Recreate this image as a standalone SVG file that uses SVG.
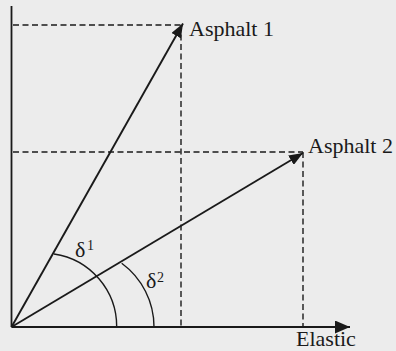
<svg xmlns="http://www.w3.org/2000/svg" width="396" height="351" viewBox="0 0 396 351">
<style>
.ax{stroke:#1a1a1a;stroke-width:1.8;fill:none}
.vec{stroke:#1a1a1a;stroke-width:1.9;fill:none}
.dash{stroke:#1a1a1a;stroke-width:1.4;fill:none;stroke-dasharray:6 3.5}
.arc{stroke:#1a1a1a;stroke-width:1.4;fill:none}
text{font-family:"Liberation Serif","Times New Roman",serif;fill:#1a1a1a}
.lbl{font-size:22px}
.d{font-size:22px}
.sup{font-size:14px}
</style>
<defs>
<marker id="ah" viewBox="0 0 14 11" refX="14" refY="5.5" markerWidth="14" markerHeight="11" markerUnits="userSpaceOnUse" orient="auto">
<path d="M0,0 L14,5.5 L0,11 z" fill="#1a1a1a"/>
</marker>
<marker id="axh" viewBox="0 0 15 13" refX="15" refY="6.5" markerWidth="15" markerHeight="13" markerUnits="userSpaceOnUse" orient="auto">
<path d="M0,0 L15,6.5 L0,13 z" fill="#1a1a1a"/>
</marker>
</defs>
<rect width="396" height="351" fill="#ececec"/>
<g id="connectors">
<line class="ax" x1="11.5" y1="6" x2="11.5" y2="327"/>
<line class="ax" x1="11.5" y1="327" x2="350" y2="327" marker-end="url(#axh)"/>
<line class="dash" x1="13" y1="25" x2="181" y2="25"/>
<line class="dash" x1="181" y1="25" x2="181" y2="327"/>
<line class="dash" x1="13" y1="152" x2="303" y2="152"/>
<line class="dash" x1="303" y1="152" x2="303" y2="327"/>
<line class="vec" x1="11.5" y1="327" x2="183" y2="23.5" marker-end="url(#ah)"/>
<line class="vec" x1="11.5" y1="327" x2="303" y2="153" marker-end="url(#ah)"/>
<path class="arc" d="M54,254 A73.5,73.5 0 0 1 116.7,327"/>
<path class="arc" d="M121.7,263.3 A79,79 0 0 1 154,327"/>
</g>
<g id="asphalt1"><text class="lbl" x="189" y="36">Asphalt 1</text></g>
<g id="asphalt2"><text class="lbl" x="308" y="153">Asphalt 2</text></g>
<g id="elastic"><text class="lbl" x="296" y="346">Elastic</text></g>
<g id="delta1"><text class="d" x="75" y="257">δ</text><text class="sup" x="87" y="250">1</text></g>
<g id="delta2"><text class="d" x="146" y="288">δ</text><text class="sup" x="157" y="282">2</text></g>
</svg>
